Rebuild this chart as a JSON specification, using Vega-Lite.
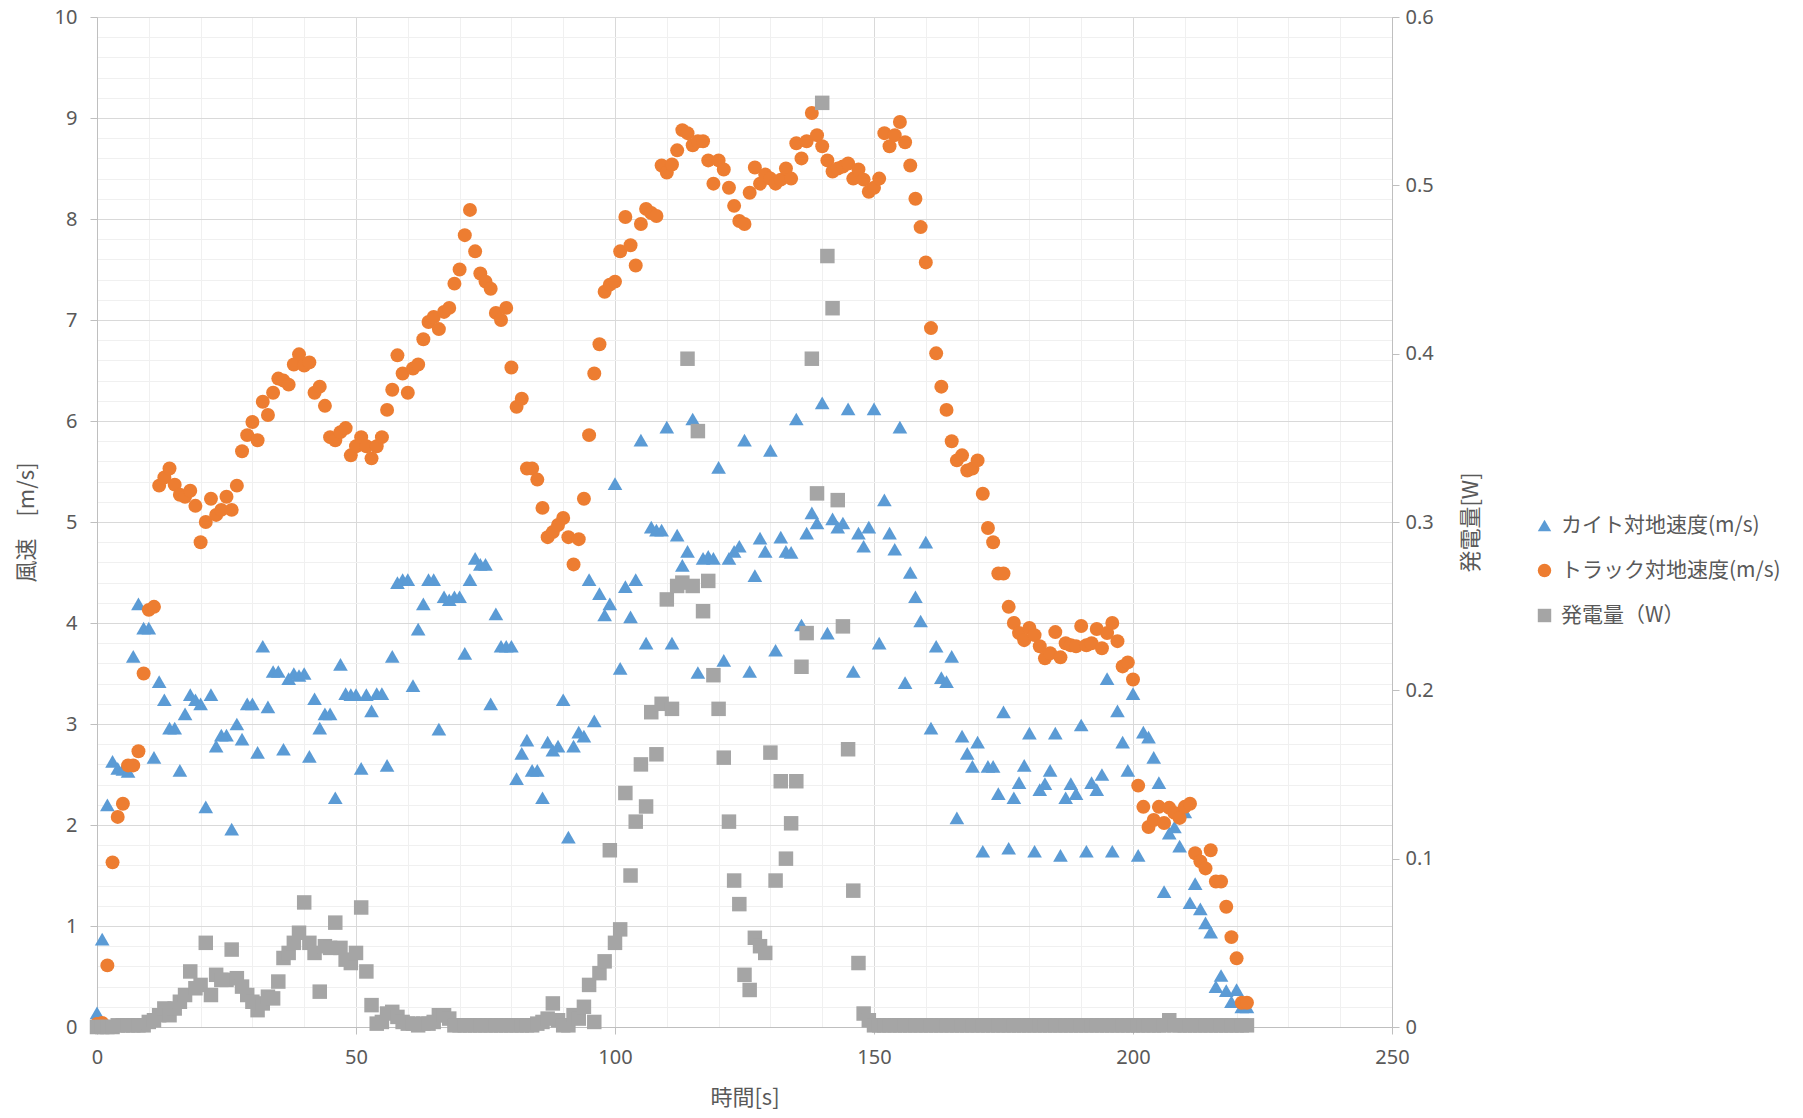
{
  "$schema": "https://vega.github.io/schema/vega-lite/v6.json",
  "width": 1295,
  "height": 1010,
  "autosize": {"type": "none"},
  "padding": {"left": 97, "top": 17, "right": 411, "bottom": 91},
  "background": "white",
  "config": {
    "view": {"stroke": null},
    "axis": {
      "labelFont": "Noto Sans",
      "labelFontSize": 20,
      "labelColor": "#595959",
      "titleFont": "Noto Sans CJK JP",
      "titleFontSize": 22,
      "titleFontWeight": "normal",
      "titleColor": "#595959",
      "domainColor": "#bfbfbf",
      "tickSize": 7,
      "labelPadding": 13,
      "labelOverlap": false,
      "labelBound": false,
      "labelFlush": false
    },
    "legend": {
      "labelFont": "Noto Sans CJK JP",
      "labelFontSize": 21,
      "labelColor": "#595959",
      "labelLimit": 0,
      "symbolSize": 180,
      "symbolOpacity": 1,
      "symbolStrokeWidth": 0,
      "rowPadding": 23,
      "labelOffset": 6,
      "padding": 0
    }
  },
  "data": {
    "values": [
      {"t":0,"kite":0.14,"truck":0.03,"power":0},
      {"t":1,"kite":0.87,"truck":0.04,"power":0},
      {"t":2,"kite":2.20,"truck":0.61,"power":0},
      {"t":3,"kite":2.63,"truck":1.63,"power":0},
      {"t":4,"kite":2.56,"truck":2.08,"power":0.001},
      {"t":5,"kite":2.55,"truck":2.21,"power":0.001},
      {"t":6,"kite":2.53,"truck":2.59,"power":0.001},
      {"t":7,"kite":3.67,"truck":2.59,"power":0.001},
      {"t":8,"kite":4.19,"truck":2.73,"power":0.001},
      {"t":9,"kite":3.95,"truck":3.50,"power":0.001},
      {"t":10,"kite":3.95,"truck":4.13,"power":0.003},
      {"t":11,"kite":2.67,"truck":4.16,"power":0.004},
      {"t":12,"kite":3.42,"truck":5.36,"power":0.007},
      {"t":13,"kite":3.24,"truck":5.44,"power":0.011},
      {"t":14,"kite":2.96,"truck":5.53,"power":0.007},
      {"t":15,"kite":2.96,"truck":5.37,"power":0.011},
      {"t":16,"kite":2.54,"truck":5.27,"power":0.015},
      {"t":17,"kite":3.10,"truck":5.25,"power":0.019},
      {"t":18,"kite":3.29,"truck":5.31,"power":0.033},
      {"t":19,"kite":3.24,"truck":5.16,"power":0.023},
      {"t":20,"kite":3.20,"truck":4.80,"power":0.025},
      {"t":21,"kite":2.18,"truck":5.00,"power":0.050},
      {"t":22,"kite":3.29,"truck":5.23,"power":0.019},
      {"t":23,"kite":2.78,"truck":5.07,"power":0.031},
      {"t":24,"kite":2.89,"truck":5.12,"power":0.028},
      {"t":25,"kite":2.89,"truck":5.25,"power":0.028},
      {"t":26,"kite":1.96,"truck":5.12,"power":0.046},
      {"t":27,"kite":3.00,"truck":5.36,"power":0.029},
      {"t":28,"kite":2.85,"truck":5.70,"power":0.024},
      {"t":29,"kite":3.20,"truck":5.86,"power":0.019},
      {"t":30,"kite":3.20,"truck":5.99,"power":0.015},
      {"t":31,"kite":2.72,"truck":5.81,"power":0.010},
      {"t":32,"kite":3.77,"truck":6.19,"power":0.014},
      {"t":33,"kite":3.17,"truck":6.06,"power":0.018},
      {"t":34,"kite":3.52,"truck":6.28,"power":0.017},
      {"t":35,"kite":3.52,"truck":6.42,"power":0.027},
      {"t":36,"kite":2.75,"truck":6.40,"power":0.041},
      {"t":37,"kite":3.45,"truck":6.36,"power":0.044},
      {"t":38,"kite":3.50,"truck":6.56,"power":0.050},
      {"t":39,"kite":3.48,"truck":6.66,"power":0.056},
      {"t":40,"kite":3.50,"truck":6.55,"power":0.074},
      {"t":41,"kite":2.68,"truck":6.58,"power":0.050},
      {"t":42,"kite":3.25,"truck":6.28,"power":0.044},
      {"t":43,"kite":2.96,"truck":6.34,"power":0.021},
      {"t":44,"kite":3.10,"truck":6.15,"power":0.048},
      {"t":45,"kite":3.10,"truck":5.84,"power":0.047},
      {"t":46,"kite":2.27,"truck":5.81,"power":0.062},
      {"t":47,"kite":3.59,"truck":5.89,"power":0.047},
      {"t":48,"kite":3.30,"truck":5.93,"power":0.040},
      {"t":49,"kite":3.29,"truck":5.66,"power":0.038},
      {"t":50,"kite":3.29,"truck":5.75,"power":0.044},
      {"t":51,"kite":2.56,"truck":5.84,"power":0.071},
      {"t":52,"kite":3.29,"truck":5.75,"power":0.033},
      {"t":53,"kite":3.13,"truck":5.63,"power":0.013},
      {"t":54,"kite":3.30,"truck":5.75,"power":0.002},
      {"t":55,"kite":3.30,"truck":5.84,"power":0.003},
      {"t":56,"kite":2.59,"truck":6.11,"power":0.008},
      {"t":57,"kite":3.67,"truck":6.31,"power":0.009},
      {"t":58,"kite":4.40,"truck":6.65,"power":0.006},
      {"t":59,"kite":4.43,"truck":6.47,"power":0.003},
      {"t":60,"kite":4.43,"truck":6.28,"power":0.002},
      {"t":61,"kite":3.38,"truck":6.52,"power":0.002},
      {"t":62,"kite":3.94,"truck":6.56,"power":0.001},
      {"t":63,"kite":4.19,"truck":6.81,"power":0.002},
      {"t":64,"kite":4.43,"truck":6.98,"power":0.002},
      {"t":65,"kite":4.43,"truck":7.03,"power":0.003},
      {"t":66,"kite":2.95,"truck":6.91,"power":0.007},
      {"t":67,"kite":4.26,"truck":7.08,"power":0.007},
      {"t":68,"kite":4.23,"truck":7.12,"power":0.005},
      {"t":69,"kite":4.26,"truck":7.36,"power":0.001},
      {"t":70,"kite":4.26,"truck":7.50,"power":0.001},
      {"t":71,"kite":3.70,"truck":7.84,"power":0.001},
      {"t":72,"kite":4.43,"truck":8.09,"power":0.001},
      {"t":73,"kite":4.64,"truck":7.68,"power":0.001},
      {"t":74,"kite":4.58,"truck":7.46,"power":0.001},
      {"t":75,"kite":4.58,"truck":7.38,"power":0.001},
      {"t":76,"kite":3.20,"truck":7.31,"power":0.001},
      {"t":77,"kite":4.09,"truck":7.07,"power":0.001},
      {"t":78,"kite":3.77,"truck":7.00,"power":0.001},
      {"t":79,"kite":3.77,"truck":7.12,"power":0.001},
      {"t":80,"kite":3.77,"truck":6.53,"power":0.001},
      {"t":81,"kite":2.46,"truck":6.14,"power":0.001},
      {"t":82,"kite":2.71,"truck":6.22,"power":0.001},
      {"t":83,"kite":2.84,"truck":5.53,"power":0.001},
      {"t":84,"kite":2.54,"truck":5.53,"power":0.001},
      {"t":85,"kite":2.54,"truck":5.42,"power":0.002},
      {"t":86,"kite":2.27,"truck":5.14,"power":0.003},
      {"t":87,"kite":2.82,"truck":4.85,"power":0.005},
      {"t":88,"kite":2.74,"truck":4.90,"power":0.014},
      {"t":89,"kite":2.78,"truck":4.97,"power":0.004},
      {"t":90,"kite":3.24,"truck":5.04,"power":0.001},
      {"t":91,"kite":1.88,"truck":4.85,"power":0.001},
      {"t":92,"kite":2.78,"truck":4.58,"power":0.007},
      {"t":93,"kite":2.92,"truck":4.83,"power":0.005},
      {"t":94,"kite":2.88,"truck":5.23,"power":0.012},
      {"t":95,"kite":4.43,"truck":5.86,"power":0.025},
      {"t":96,"kite":3.03,"truck":6.47,"power":0.003},
      {"t":97,"kite":4.29,"truck":6.76,"power":0.032},
      {"t":98,"kite":4.08,"truck":7.28,"power":0.039},
      {"t":99,"kite":4.19,"truck":7.35,"power":0.105},
      {"t":100,"kite":5.38,"truck":7.38,"power":0.050},
      {"t":101,"kite":3.55,"truck":7.68,"power":0.058},
      {"t":102,"kite":4.36,"truck":8.02,"power":0.139},
      {"t":103,"kite":4.06,"truck":7.74,"power":0.090},
      {"t":104,"kite":4.43,"truck":7.54,"power":0.122},
      {"t":105,"kite":5.81,"truck":7.95,"power":0.156},
      {"t":106,"kite":3.80,"truck":8.10,"power":0.131},
      {"t":107,"kite":4.95,"truck":8.06,"power":0.187},
      {"t":108,"kite":4.92,"truck":8.03,"power":0.162},
      {"t":109,"kite":4.92,"truck":8.53,"power":0.192},
      {"t":110,"kite":5.94,"truck":8.46,"power":0.254},
      {"t":111,"kite":3.80,"truck":8.54,"power":0.189},
      {"t":112,"kite":4.87,"truck":8.68,"power":0.262},
      {"t":113,"kite":4.57,"truck":8.88,"power":0.264},
      {"t":114,"kite":4.71,"truck":8.85,"power":0.397},
      {"t":115,"kite":6.02,"truck":8.73,"power":0.262},
      {"t":116,"kite":3.51,"truck":8.77,"power":0.354},
      {"t":117,"kite":4.64,"truck":8.77,"power":0.247},
      {"t":118,"kite":4.66,"truck":8.58,"power":0.265},
      {"t":119,"kite":4.64,"truck":8.35,"power":0.209},
      {"t":120,"kite":5.54,"truck":8.58,"power":0.189},
      {"t":121,"kite":3.63,"truck":8.49,"power":0.160},
      {"t":122,"kite":4.64,"truck":8.31,"power":0.122},
      {"t":123,"kite":4.71,"truck":8.13,"power":0.087},
      {"t":124,"kite":4.76,"truck":7.98,"power":0.073},
      {"t":125,"kite":5.81,"truck":7.95,"power":0.031},
      {"t":126,"kite":3.52,"truck":8.26,"power":0.022},
      {"t":127,"kite":4.47,"truck":8.51,"power":0.053},
      {"t":128,"kite":4.84,"truck":8.35,"power":0.048},
      {"t":129,"kite":4.71,"truck":8.44,"power":0.044},
      {"t":130,"kite":5.71,"truck":8.40,"power":0.163},
      {"t":131,"kite":3.73,"truck":8.35,"power":0.087},
      {"t":132,"kite":4.85,"truck":8.39,"power":0.146},
      {"t":133,"kite":4.71,"truck":8.50,"power":0.100},
      {"t":134,"kite":4.70,"truck":8.40,"power":0.121},
      {"t":135,"kite":6.02,"truck":8.75,"power":0.146},
      {"t":136,"kite":3.98,"truck":8.60,"power":0.214},
      {"t":137,"kite":4.89,"truck":8.77,"power":0.234},
      {"t":138,"kite":5.09,"truck":9.05,"power":0.397},
      {"t":139,"kite":4.99,"truck":8.83,"power":0.317},
      {"t":140,"kite":6.18,"truck":8.72,"power":0.549},
      {"t":141,"kite":3.90,"truck":8.58,"power":0.458},
      {"t":142,"kite":5.03,"truck":8.47,"power":0.427},
      {"t":143,"kite":4.95,"truck":8.50,"power":0.313},
      {"t":144,"kite":4.99,"truck":8.52,"power":0.238},
      {"t":145,"kite":6.12,"truck":8.55,"power":0.165},
      {"t":146,"kite":3.52,"truck":8.40,"power":0.081},
      {"t":147,"kite":4.89,"truck":8.49,"power":0.038},
      {"t":148,"kite":4.76,"truck":8.39,"power":0.008},
      {"t":149,"kite":4.95,"truck":8.27,"power":0.004},
      {"t":150,"kite":6.12,"truck":8.31,"power":0.001},
      {"t":151,"kite":3.80,"truck":8.40,"power":0.001},
      {"t":152,"kite":5.22,"truck":8.85,"power":0.001},
      {"t":153,"kite":4.89,"truck":8.72,"power":0.001},
      {"t":154,"kite":4.73,"truck":8.83,"power":0.001},
      {"t":155,"kite":5.94,"truck":8.96,"power":0.001},
      {"t":156,"kite":3.41,"truck":8.76,"power":0.001},
      {"t":157,"kite":4.50,"truck":8.53,"power":0.001},
      {"t":158,"kite":4.26,"truck":8.20,"power":0.001},
      {"t":159,"kite":4.02,"truck":7.92,"power":0.001},
      {"t":160,"kite":4.80,"truck":7.57,"power":0.001},
      {"t":161,"kite":2.96,"truck":6.92,"power":0.001},
      {"t":162,"kite":3.77,"truck":6.67,"power":0.001},
      {"t":163,"kite":3.46,"truck":6.34,"power":0.001},
      {"t":164,"kite":3.42,"truck":6.11,"power":0.001},
      {"t":165,"kite":3.67,"truck":5.80,"power":0.001},
      {"t":166,"kite":2.07,"truck":5.61,"power":0.001},
      {"t":167,"kite":2.88,"truck":5.66,"power":0.001},
      {"t":168,"kite":2.71,"truck":5.51,"power":0.001},
      {"t":169,"kite":2.58,"truck":5.53,"power":0.001},
      {"t":170,"kite":2.82,"truck":5.61,"power":0.001},
      {"t":171,"kite":1.74,"truck":5.28,"power":0.001},
      {"t":172,"kite":2.58,"truck":4.94,"power":0.001},
      {"t":173,"kite":2.58,"truck":4.80,"power":0.001},
      {"t":174,"kite":2.31,"truck":4.49,"power":0.001},
      {"t":175,"kite":3.12,"truck":4.49,"power":0.001},
      {"t":176,"kite":1.77,"truck":4.16,"power":0.001},
      {"t":177,"kite":2.27,"truck":4.00,"power":0.001},
      {"t":178,"kite":2.42,"truck":3.90,"power":0.001},
      {"t":179,"kite":2.59,"truck":3.83,"power":0.001},
      {"t":180,"kite":2.91,"truck":3.95,"power":0.001},
      {"t":181,"kite":1.74,"truck":3.88,"power":0.001},
      {"t":182,"kite":2.35,"truck":3.77,"power":0.001},
      {"t":183,"kite":2.41,"truck":3.65,"power":0.001},
      {"t":184,"kite":2.54,"truck":3.70,"power":0.001},
      {"t":185,"kite":2.91,"truck":3.91,"power":0.001},
      {"t":186,"kite":1.70,"truck":3.66,"power":0.001},
      {"t":187,"kite":2.27,"truck":3.80,"power":0.001},
      {"t":188,"kite":2.41,"truck":3.78,"power":0.001},
      {"t":189,"kite":2.31,"truck":3.77,"power":0.001},
      {"t":190,"kite":2.99,"truck":3.97,"power":0.001},
      {"t":191,"kite":1.74,"truck":3.78,"power":0.001},
      {"t":192,"kite":2.42,"truck":3.80,"power":0.001},
      {"t":193,"kite":2.35,"truck":3.94,"power":0.001},
      {"t":194,"kite":2.50,"truck":3.75,"power":0.001},
      {"t":195,"kite":3.45,"truck":3.90,"power":0.001},
      {"t":196,"kite":1.74,"truck":4.00,"power":0.001},
      {"t":197,"kite":3.13,"truck":3.82,"power":0.001},
      {"t":198,"kite":2.82,"truck":3.57,"power":0.001},
      {"t":199,"kite":2.54,"truck":3.61,"power":0.001},
      {"t":200,"kite":3.30,"truck":3.44,"power":0.001},
      {"t":201,"kite":1.70,"truck":2.39,"power":0.001},
      {"t":202,"kite":2.92,"truck":2.18,"power":0.001},
      {"t":203,"kite":2.87,"truck":1.98,"power":0.001},
      {"t":204,"kite":2.67,"truck":2.05,"power":0.001},
      {"t":205,"kite":2.42,"truck":2.18,"power":0.001},
      {"t":206,"kite":1.34,"truck":2.02,"power":0.001},
      {"t":207,"kite":1.92,"truck":2.17,"power":0.004},
      {"t":208,"kite":1.98,"truck":2.12,"power":0.001},
      {"t":209,"kite":1.79,"truck":2.07,"power":0.001},
      {"t":210,"kite":2.13,"truck":2.18,"power":0.001},
      {"t":211,"kite":1.23,"truck":2.21,"power":0.001},
      {"t":212,"kite":1.42,"truck":1.72,"power":0.001},
      {"t":213,"kite":1.17,"truck":1.64,"power":0.001},
      {"t":214,"kite":1.03,"truck":1.57,"power":0.001},
      {"t":215,"kite":0.94,"truck":1.75,"power":0.001},
      {"t":216,"kite":0.40,"truck":1.44,"power":0.001},
      {"t":217,"kite":0.51,"truck":1.44,"power":0.001},
      {"t":218,"kite":0.36,"truck":1.19,"power":0.001},
      {"t":219,"kite":0.25,"truck":0.89,"power":0.001},
      {"t":220,"kite":0.37,"truck":0.68,"power":0.001},
      {"t":221,"kite":0.20,"truck":0.24,"power":0.001},
      {"t":222,"kite":0.20,"truck":0.24,"power":0.001}
    ]
  },
  "transform": [{"fold": ["kite", "truck", "power"], "as": ["series", "value"]}],
  "encoding": {
    "x": {
      "field": "t",
      "type": "quantitative",
      "scale": {"domain": [0, 250], "nice": false, "zero": false},
      "axis": {
        "title": "時間[s]",
        "titlePadding": 20,
        "values": [0,10,20,30,40,50,60,70,80,90,100,110,120,130,140,150,160,170,180,190,200,210,220,230,240,250],
        "format": "d",
        "labelExpr": "datum.value % 50 === 0 ? datum.label : ''",
        "grid": true,
        "gridColor": {"condition": {"test": "datum.value % 50 === 0", "value": "#d9d9d9"}, "value": "#f0f0f0"},
        "tickColor": {"condition": {"test": "datum.value % 50 === 0", "value": "#bfbfbf"}, "value": "transparent"}
      }
    },
    "color": {
      "field": "series",
      "type": "nominal",
      "scale": {"domain": ["kite", "truck", "power"], "range": ["#5b9bd5", "#ed7d31", "#a5a5a5"]},
      "legend": {
        "title": null,
        "orient": "none",
        "legendX": 1437,
        "legendY": 498,
        "labelExpr": "{'kite': 'カイト対地速度(m/s)', 'truck': 'トラック対地速度(m/s)', 'power': '発電量（W）'}[datum.label]"
      }
    },
    "shape": {
      "field": "series",
      "type": "nominal",
      "scale": {"domain": ["kite", "truck", "power"], "range": ["triangle-up", "circle", "square"]},
      "legend": {
        "title": null,
        "orient": "none",
        "legendX": 1437,
        "legendY": 498,
        "labelExpr": "{'kite': 'カイト対地速度(m/s)', 'truck': 'トラック対地速度(m/s)', 'power': '発電量（W）'}[datum.label]"
      }
    }
  },
  "layer": [
    {
      "encoding": {
        "y": {
          "field": "value",
          "type": "quantitative",
          "scale": {"domain": [0, 10], "nice": false},
          "axis": {
            "title": "風速　[m/s]",
            "titlePadding": 16,
            "values": [0,0.2,0.4,0.6,0.8,1,1.2,1.4,1.6,1.8,2,2.2,2.4,2.6,2.8,3,3.2,3.4,3.6,3.8,4,4.2,4.4,4.6,4.8,5,5.2,5.4,5.6,5.8,6,6.2,6.4,6.6,6.8,7,7.2,7.4,7.6,7.8,8,8.2,8.4,8.6,8.8,9,9.2,9.4,9.6,9.8,10],
            "labelExpr": "abs(datum.value - round(datum.value)) < 0.001 ? format(datum.value, 'd') : ''",
            "grid": true,
            "gridColor": {"condition": {"test": "abs(datum.value - round(datum.value)) < 0.001", "value": "#d9d9d9"}, "value": "#f0f0f0"},
            "tickColor": {"condition": {"test": "abs(datum.value - round(datum.value)) < 0.001", "value": "#bfbfbf"}, "value": "transparent"}
          }
        }
      },
      "layer": [
        {
          "transform": [{"filter": "datum.series === 'kite'"}],
          "mark": {"type": "point", "filled": true, "opacity": 1, "size": 215}
        },
        {
          "transform": [{"filter": "datum.series === 'truck'"}],
          "mark": {"type": "point", "filled": true, "opacity": 1, "size": 195}
        }
      ]
    },
    {
      "transform": [{"filter": "datum.series === 'power'"}],
      "mark": {"type": "point", "filled": true, "opacity": 1, "size": 210},
      "encoding": {
        "y": {
          "field": "value",
          "type": "quantitative",
          "scale": {"domain": [0, 0.6], "nice": false},
          "axis": {
            "orient": "right",
            "title": "発電量[W]",
            "titleAngle": 270,
            "titleBaseline": "top",
            "titlePadding": 27,
            "values": [0, 0.1, 0.2, 0.3, 0.4, 0.5, 0.6],
            "format": "~g",
            "labelPadding": 6,
            "tickColor": "#bfbfbf",
            "grid": false
          }
        }
      }
    }
  ],
  "resolve": {"scale": {"y": "independent"}}
}
